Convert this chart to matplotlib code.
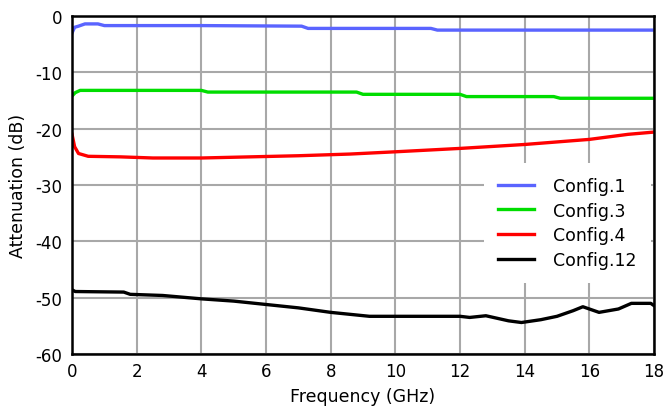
import matplotlib
matplotlib.use("Agg")
import matplotlib.pyplot as plt
import matplotlib.ticker as ticker

plt.rcParams["axes.unicode_minus"] = False

# Measured attenuation per configuration (frequency in GHz, level in dB)
freq_c1 = [0.0, 0.08, 0.2, 0.4, 0.8, 1.0, 4.0, 7.1, 7.3, 11.1, 11.3, 18.0]
att_c1 = [-3.0, -2.0, -1.8, -1.4, -1.4, -1.7, -1.7, -1.8, -2.2, -2.2, -2.5, -2.5]

freq_c3 = [0.0, 0.1, 0.25, 4.0, 4.2, 8.8, 9.0, 12.0, 12.2, 14.9, 15.1, 18.0]
att_c3 = [-14.2, -13.6, -13.2, -13.2, -13.5, -13.5, -13.9, -13.9, -14.3, -14.3, -14.6, -14.6]

freq_c4 = [0.0, 0.08, 0.2, 0.5, 1.5, 2.5, 4.0, 5.5, 7.0, 8.6, 10.0, 12.0,
           14.0, 16.0, 17.2, 18.0]
att_c4 = [-21.0, -23.2, -24.4, -24.9, -25.0, -25.2, -25.2, -25.0, -24.8, -24.5,
          -24.1, -23.5, -22.8, -21.9, -21.0, -20.6]

freq_c12 = [0.0, 0.1, 1.6, 1.8, 2.8, 4.0, 5.0, 6.0, 7.0, 8.0, 9.2, 10.0, 12.0,
            12.3, 12.8, 13.5, 13.9, 14.5, 15.0, 15.5, 15.8, 16.3, 16.9, 17.3,
            17.9, 18.0]
att_c12 = [-48.6, -48.9, -49.0, -49.4, -49.6, -50.2, -50.6, -51.2, -51.8, -52.6,
           -53.3, -53.3, -53.3, -53.5, -53.2, -54.1, -54.4, -53.9, -53.3, -52.3,
           -51.6, -52.6, -52.0, -51.0, -51.0, -51.4]

series = [
    ("Config.1", freq_c1, att_c1, "#5a64ff"),
    ("Config.3", freq_c3, att_c3, "#00dd00"),
    ("Config.4", freq_c4, att_c4, "#ff0000"),
    ("Config.12", freq_c12, att_c12, "#000000"),
]

fig = plt.figure(figsize=(6.67, 4.10), dpi=100)
ax = fig.add_axes([0.108, 0.134, 0.8725, 0.8245])

for label, f, a, color in series:
    ax.plot(f, a, color=color, linewidth=2.4, label=label,
            solid_joinstyle="round")

ax.set_xlim(0, 18)
ax.set_ylim(-60, 0)
ax.xaxis.set_major_locator(ticker.MultipleLocator(2))
ax.yaxis.set_major_locator(ticker.MultipleLocator(10))
ax.tick_params(length=0, labelsize=12)
ax.tick_params(axis="x", pad=6)
ax.tick_params(axis="y", pad=7)

ax.set_axisbelow(True)
ax.grid(True, color="#a8a8a8", linewidth=1.5)
for spine in ax.spines.values():
    spine.set_color("black")
    spine.set_linewidth(1.8)

ax.set_xlabel("Frequency (GHz)", fontsize=12.5, labelpad=5)
ax.set_ylabel("Attenuation (dB)", fontsize=12.5, labelpad=6)

# white legend box without border, hides the grid behind it
legend = ax.legend(loc="upper right", bbox_to_anchor=(0.994, 0.565),
                   fontsize=12.5, frameon=True, fancybox=False,
                   framealpha=1.0, edgecolor="white", handlelength=2.1,
                   handletextpad=1.1, labelspacing=0.38,
                   borderpad=0.8, borderaxespad=0.0)
legend.get_frame().set_linewidth(0)

fig.savefig("out.png", dpi=100)
plt.close(fig)
